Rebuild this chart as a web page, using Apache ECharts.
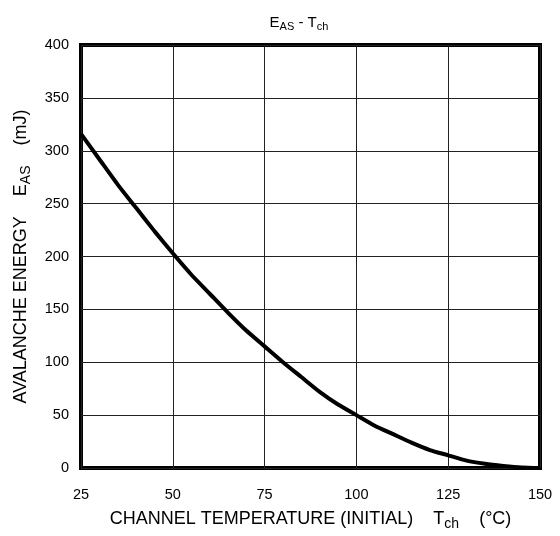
<!DOCTYPE html>
<html>
<head>
<meta charset="utf-8">
<script src="https://cdn.jsdelivr.net/npm/echarts@6/dist/echarts.min.js"></script>
<style>html,body{margin:0;padding:0;background:#fff}#c{width:560px;height:536px}</style>
</head>
<body>
<div id="c"></div>
<script>
const temperatures = [25,30,35,40,45,50,55,60,65,70,75,80,85,90,95,100,105,110,115,120,125,130,135,140,145,150];
const energies = [316,292,268,246,224,203,183,165,147,130,115,100,86,72,60,50,40,32,24,17,12,7,4,2,0.5,0];
const xTicks = [25,50,75,100,125,150];
const yTicks = [0,50,100,150,200,250,300,350,400];

const font = 'Liberation Sans, Arial, sans-serif';
const chart = echarts.init(document.getElementById('c'));
chart.setOption({
  backgroundColor: '#fff',
  animation: false,
  title: {
    text: '{m|E}{s|AS}{m| - T}{s|ch}',
    left: 294, top: 9, textAlign: 'center',
    textStyle: {
      rich: {
        m: {fontFamily: font, fontSize: 15, color: '#000', fontWeight: 'normal'},
        s: {fontFamily: font, fontSize: 11, color: '#000', padding: [7,0,0,0], fontWeight: 'normal'}
      }
    }
  },
  grid: {left: 81, right: 20, top: 45, bottom: 62, show: true, borderColor: '#000', borderWidth: 4, backgroundColor: '#fff'},
  xAxis: {
    type: 'value', min: xTicks[0], max: xTicks[xTicks.length-1], interval: 25,
    axisLine: {show: false}, axisTick: {show: false},
    splitLine: {show: true, lineStyle: {color: '#222', width: 1}},
    axisLabel: {color: '#000', fontFamily: font, fontSize: 14.5, margin: 19},
    name: '{m|CHANNEL TEMPERATURE (INITIAL)    T}{s|ch}{m|    (°C)}',
    nameLocation: 'middle', nameGap: 40,
    nameTextStyle: {
      rich: {
        m: {fontFamily: font, fontSize: 18, color: '#000'},
        s: {fontFamily: font, fontSize: 14, color: '#000', padding: [9,0,0,0]}
      }
    }
  },
  yAxis: {
    type: 'value', min: yTicks[0], max: yTicks[yTicks.length-1], interval: 50,
    axisLine: {show: false}, axisTick: {show: false},
    splitLine: {show: true, lineStyle: {color: '#222', width: 1}},
    axisLabel: {color: '#000', fontFamily: font, fontSize: 14.5, margin: 12},
    name: '{m|AVALANCHE ENERGY    E}{s|AS}{m|    (mJ)}',
    nameLocation: 'middle', nameGap: 48, nameRotate: 90,
    nameTextStyle: {
      rich: {
        m: {fontFamily: font, fontSize: 18, color: '#000'},
        s: {fontFamily: font, fontSize: 14, color: '#000', padding: [9,0,0,0]}
      }
    }
  },
  series: [{
    type: 'line',
    data: temperatures.map((t, i) => [t, energies[i]]),
    showSymbol: false,
    smooth: 0.2,
    lineStyle: {color: '#000', width: 4},
    z: 5
  }]
});
</script>
</body>
</html>
